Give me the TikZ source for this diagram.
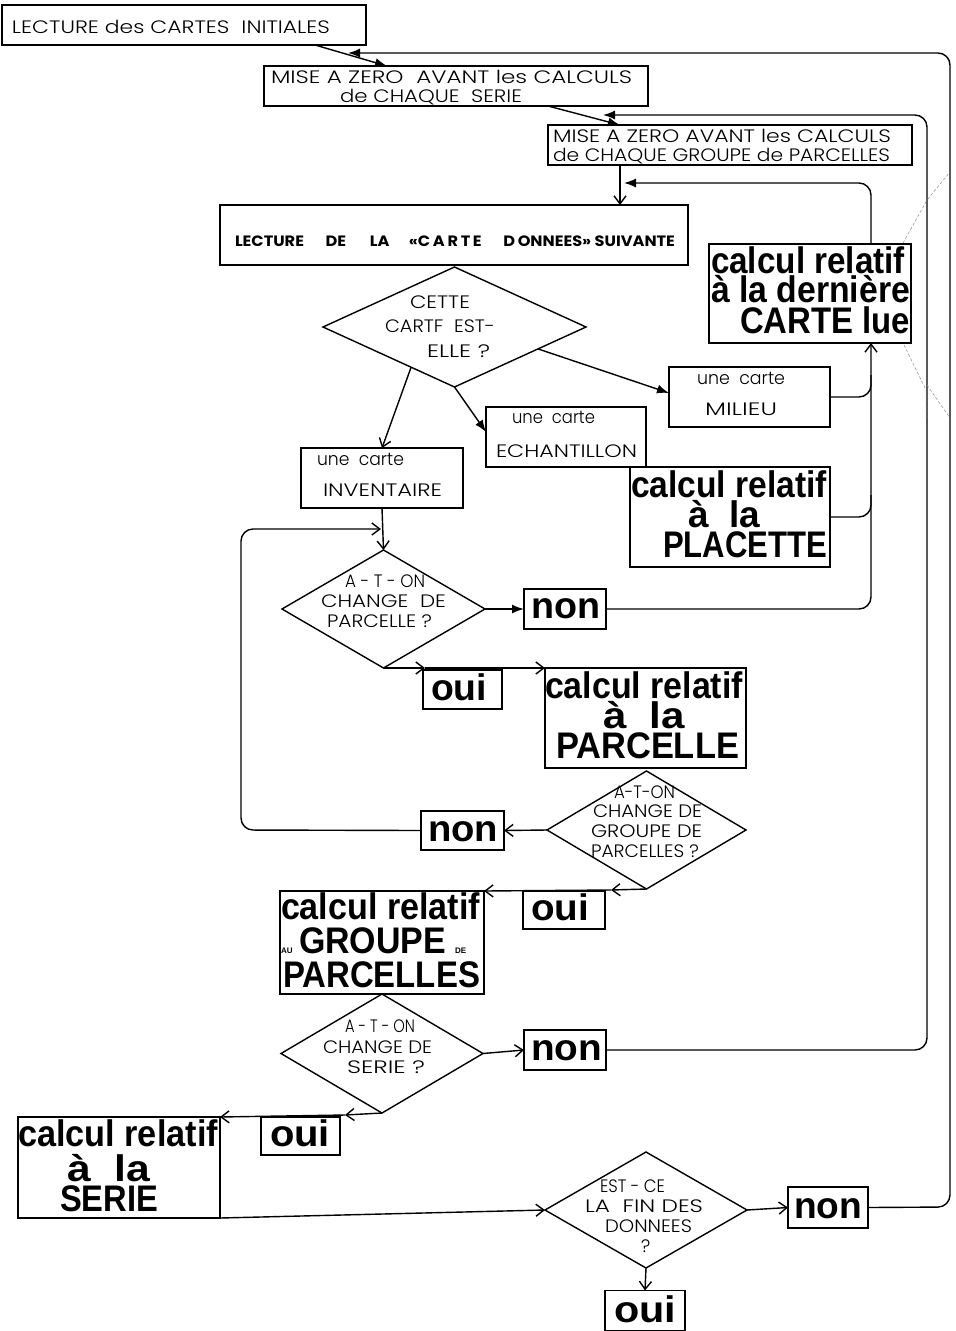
\documentclass[tikz,border=0pt]{standalone}
\usepackage{fontspec}
\usepackage{graphicx}
\usetikzlibrary{shapes.geometric,arrows.meta,calc}
\IfFontExistsTF{Poppins Light}{\newfontfamily\ltf{Poppins Light}}{\newfontfamily\ltf{Poppins}}
\newfontfamily\pbf{Poppins}
\newfontfamily\bcf{Liberation Sans}
\newcommand\fx[2]{\resizebox{#1}{\height}{#2}}
\tikzset{
  box/.style={draw, line width=1.6pt, inner sep=0pt, outer sep=0pt, rectangle},
  bbox/.style={box, line width=1.9pt},
  dia/.style={draw, diamond, line width=1.4pt, inner sep=0pt, outer sep=0pt},
  tx/.style={anchor=base west, inner sep=0pt, outer sep=0pt, font=\fontsize{18}{18}\ltf},
  bx/.style={anchor=base west, inner sep=0pt, outer sep=0pt, font=\fontsize{37}{37}\bcf\bfseries},
  ln/.style={line width=1.4pt},
  arr/.style={ln, -{Straight Barb[length=8pt,width=12pt]}},
  farr/.style={ln, -{Latex[length=12pt,width=9pt]}},
  art/.style={black!45, densely dashed, line width=0.5pt}
}
\begin{document}
\begin{tikzpicture}[x=1pt,y=-1pt]
\useasboundingbox (0,0) rectangle (956,1331);
% ---------- boxes ----------
\node[box, minimum width=364pt, minimum height=40pt] (b1) at (184,25) {};
\node[box, minimum width=384pt, minimum height=40pt] (b2) at (456,86) {};
\node[box, minimum width=364pt, minimum height=40pt] (b3) at (730,145) {};
\node[box, minimum width=468pt, minimum height=60pt] (b4) at (454,235) {};
\node[dia, minimum width=263pt, minimum height=120pt] (d1) at (454.5,327) {};
\node[box, minimum width=161pt, minimum height=60pt] (milieu) at (749.5,397) {};
\node[box, minimum width=160pt, minimum height=60pt] (echan) at (566,437) {};
\node[box, minimum width=162pt, minimum height=60pt] (inv) at (382,478) {};
\node[bbox, minimum width=200pt, minimum height=100pt] (placette) at (730,517) {};
\node[bbox, minimum width=202pt, minimum height=99pt] (derniere) at (810,293.5) {};
\node[dia, minimum width=203pt, minimum height=118pt] (d2) at (383.5,609) {};
\node[bbox, minimum width=82pt, minimum height=40pt] (non1) at (565,609) {};
\node[bbox, minimum width=79pt, minimum height=39pt] (oui1) at (462.5,689.5) {};
\node[bbox, minimum width=201pt, minimum height=100pt] (parcelle) at (645.5,718) {};
\node[dia, minimum width=199pt, minimum height=118pt] (d3) at (646.5,830) {};
\node[bbox, minimum width=83pt, minimum height=39pt] (non2) at (462.5,830.5) {};
\node[bbox, minimum width=82pt, minimum height=38pt] (oui2) at (564,910) {};
\node[bbox, minimum width=204pt, minimum height=103pt] (groupe) at (382,942.5) {};
\node[dia, minimum width=202pt, minimum height=119pt] (d4) at (382,1053.5) {};
\node[bbox, minimum width=82pt, minimum height=40pt] (non3) at (565,1050) {};
\node[bbox, minimum width=79pt, minimum height=38pt] (oui3) at (300.5,1136) {};
\node[bbox, minimum width=202pt, minimum height=101pt] (serie) at (119,1167.5) {};
\node[dia, minimum width=202pt, minimum height=116pt] (d5) at (646,1210) {};
\node[bbox, minimum width=80pt, minimum height=41pt] (non4) at (828,1207.5) {};
\node[bbox, minimum width=80pt, minimum height=40pt] (oui4) at (645,1310.5) {};
% ---------- light texts ----------
\node[tx] (tb1) at (12,33) {\fx{318pt}{LECTURE des CARTES\ \ INITIALES}};
\node[tx] (tb2a) at (271,83) {\fx{361pt}{MISE A ZERO\ \ AVANT les CALCULS}};
\node[tx] (tb2b) at (340,102) {\fx{182pt}{de CHAQUE\ \ SERIE}};
\node[tx] (tb3a) at (553,142) {\fx{338pt}{MISE A ZERO AVANT les CALCULS}};
\node[tx] (tb3b) at (553,161) {\fx{337pt}{de CHAQUE GROUPE de PARCELLES}};
\node[tx, font=\fontsize{15}{15}\pbf\bfseries] (tb4) at (235,246) {\fx{440pt}{LECTURE\hspace{20pt}DE\hspace{22pt}LA\hspace{18pt}«C\,A\,R\,T\,E\hspace{20pt}D\,ONNEES» SUIVANTE}};
\node[tx] (td1a) at (410,308) {\fx{60pt}{CETTE}};
\node[tx] (td1b) at (385,332) {\fx{110pt}{CARTF\ \ EST-}};
\node[tx] (td1c) at (427,357) {\fx{63pt}{ELLE ?}};
\node[tx] (tmia) at (697,384) {\fx{88pt}{une\ \ carte}};
\node[tx] (tmib) at (705,415) {\fx{72pt}{MILIEU}};
\node[tx] (teca) at (512,423) {\fx{83pt}{une\ \ carte}};
\node[tx] (tecb) at (496,457) {\fx{141pt}{ECHANTILLON}};
\node[tx] (tiva) at (317,465) {\fx{87pt}{une\ \ carte}};
\node[tx] (tivb) at (323,496) {\fx{119pt}{INVENTAIRE}};
\node[tx] (td2a) at (345,587) {\fx{80pt}{A - T - ON}};
\node[tx] (td2b) at (321,607) {\fx{125pt}{CHANGE\ \ DE}};
\node[tx] (td2c) at (327,627) {\fx{105pt}{PARCELLE ?}};
\node[tx] (td3a) at (614,798) {\fx{61pt}{A-T-ON}};
\node[tx] (td3b) at (593,817) {\fx{109pt}{CHANGE DE}};
\node[tx] (td3c) at (591,837) {\fx{111pt}{GROUPE DE}};
\node[tx] (td3d) at (591,857) {\fx{108pt}{PARCELLES ?}};
\node[tx] (td4a) at (345,1032) {\fx{70pt}{A - T - ON}};
\node[tx] (td4b) at (323,1053) {\fx{109pt}{CHANGE DE}};
\node[tx] (td4c) at (347,1073) {\fx{78pt}{SERIE ?}};
\node[tx] (td5a) at (600,1192) {\fx{65pt}{EST - CE}};
\node[tx] (td5b) at (585,1212) {\fx{118pt}{LA\ \ FIN DES}};
\node[tx] (td5c) at (605,1232) {\fx{87pt}{DONNEES}};
\node[tx] (td5d) at (641,1252) {?};
% ---------- bold texts ----------
\node[bx] (tn1) at (531,618) {\fx{69pt}{non}};
\node[bx] (to1) at (431,700) {\fx{56pt}{oui}};
\node[bx] (tn2) at (428,841) {\fx{70pt}{non}};
\node[bx] (to2) at (531,920) {\fx{58pt}{oui}};
\node[bx] (tn3) at (531,1060) {\fx{71pt}{non}};
\node[bx] (to3) at (270,1146) {\fx{60pt}{oui}};
\node[bx] (tn4) at (794,1218) {\fx{68pt}{non}};
\node[bx] (to4) at (614,1322) {\fx{62pt}{oui}};
\node[bx] (tda) at (711,273) {\fx{194pt}{calcul relatif}};
\node[bx] (tdb) at (711,302) {\fx{199pt}{à la dernière}};
\node[bx] (tdc) at (740,333) {\fx{170pt}{CARTE lue}};
\node[bx] (tpla) at (631,497) {\fx{196pt}{calcul relatif}};
\node[bx] (tplb) at (688,527) {\fx{72pt}{à\ \ la}};
\node[bx] (tplc) at (663,557) {\fx{164pt}{PLACETTE}};
\node[bx] (tpaa) at (545,698) {\fx{198pt}{calcul relatif}};
\node[bx] (tpab) at (603,728) {\fx{82pt}{à\ \ la}};
\node[bx] (tpac) at (556,758) {\fx{183pt}{PARCELLE}};
\node[bx] (tgra) at (281,919) {\fx{199pt}{calcul relatif}};
\node[bx, font=\fontsize{8}{8}\bcf\bfseries] (tgrau) at (281,953) {AU};
\node[bx] (tgrb) at (299,953) {\fx{147pt}{GROUPE}};
\node[bx, font=\fontsize{8}{8}\bcf\bfseries] (tgrde) at (455,953) {DE};
\node[bx] (tgrc) at (283,987) {\fx{197pt}{PARCELLES}};
\node[bx] (tsea) at (18,1146) {\fx{200pt}{calcul relatif}};
\node[bx] (tseb) at (67,1181) {\fx{83pt}{à\ \ la}};
\node[bx] (tsec) at (60,1211) {\fx{98pt}{SERIE}};
% ---------- connectors ----------
\draw[farr] ([xshift=131pt]b1.south) -- ([xshift=-69pt]b2.north);
\draw[farr, rounded corners=12pt] (non4.east) -- (950,1207) -- (950,53) -- (348,53);
\draw[farr] ([xshift=92pt]b2.south) -- ([xshift=-110pt]b3.north);
\draw[farr, rounded corners=12pt] (non3.east) -- (927,1050) -- (927,115) -- (603,115);
\draw[arr] ([xshift=-110pt]b3.south) -- ([xshift=166pt]b4.north);
\draw[farr, rounded corners=12pt] ([xshift=61pt]derniere.north) -- (871,183) -- (624,183);
\draw[arr] ($(d1.west)!0.67!(d1.south)$) -- (inv.north);
\draw[farr] (d1.south) -- ([yshift=5pt]echan.west);
\draw[farr] ($(d1.south)!0.635!(d1.east)$) -- ([yshift=4pt]milieu.west);
\draw[arr, rounded corners=12pt] (non1.east) -- (871,609) -- ([xshift=61pt]derniere.south);
\draw[ln, rounded corners=12pt] (milieu.east) -- (871,397) -- (871,375);
\draw[ln, rounded corners=12pt] (placette.east) -- (871,517) -- (871,495);
\draw[arr] (inv.south) -- (d2.north);
\draw[arr, rounded corners=12pt] (non2.west) -- (241,830) -- (241,529) -- (381,529);
\draw[farr] (d2.east) -- (non1.west);
\coordinate (m1) at (425,668);
\draw[arr] (d2.south) -- (m1);
\draw[arr] (m1) -- (parcelle.north west);
\draw[arr] (d3.west) -- (non2.east);
\coordinate (m2) at (611,890);
\draw[arr] (d3.south) -- (m2);
\draw[arr] (m2) -- (groupe.north east);
\draw[arr] (d4.east) -- (non3.west);
\coordinate (m3) at (345,1115);
\draw[arr] (d4.south) -- (m3);
\draw[arr] (m3) -- (serie.north east);
\draw[arr] (serie.south east) -- (d5.west);
\draw[arr] (d5.east) -- (non4.west);
\draw[arr] (d5.south) -- (oui4.north);
% ---------- faint scan marks ----------
\draw[art] (903,243) -- (927,200) -- (950,172);
\draw[art] (904,345) -- (926,390) -- (926,418);
\draw[art] (927,385) -- (950,418);
\end{tikzpicture}
\end{document}
